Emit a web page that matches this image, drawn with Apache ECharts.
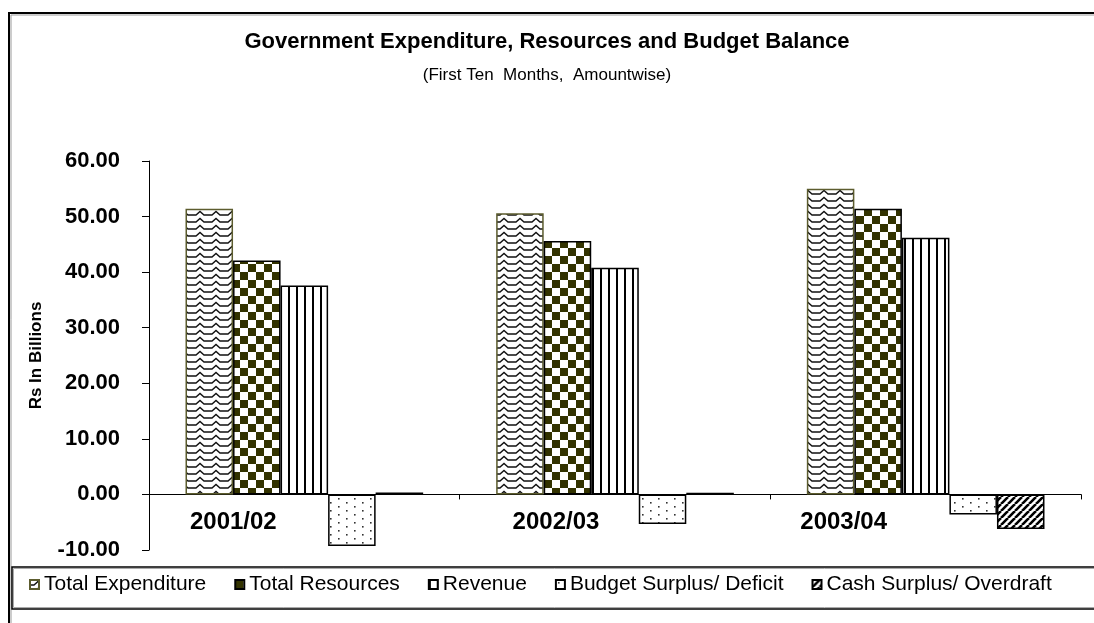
<!DOCTYPE html>
<html>
<head>
<meta charset="utf-8">
<script src="https://cdn.jsdelivr.net/npm/echarts@6/dist/echarts.min.js"></script>
<style>
html,body{margin:0;padding:0;background:#fff;}
#chart{width:1094px;height:623px;}
</style>
</head>
<body>
<div id="chart"></div>
<script>
// ---- data ----
const categories = ['2001/02', '2002/03', '2003/04'];
const seriesNames = ['Total Expenditure', 'Total Resources', 'Revenue', 'Budget Surplus/ Deficit', 'Cash Surplus/ Overdraft'];
const totalExpenditure = [51.4, 50.6, 55.0];
const totalResources = [42.1, 45.6, 51.4];
const revenue = [37.6, 40.8, 46.2];
const budgetBalance = [-9.3, -5.3, -3.6];
const cashBalance = [0.35, 0.3, -6.2];
const yTicks = { min: -10, max: 60, step: 10 };

// ---- patterns ----
function pat(w, h, draw) {
  const c = document.createElement('canvas');
  c.width = w; c.height = h;
  const g = c.getContext('2d');
  g.fillStyle = '#fff'; g.fillRect(0, 0, w, h);
  draw(g);
  return { image: c, repeat: 'repeat' };
}
const zigzag = pat(16, 7, g => {
  g.strokeStyle = '#111'; g.lineWidth = 1.4;
  g.beginPath(); g.moveTo(0, 5); g.lineTo(4, 5); g.lineTo(8, 1.5); g.lineTo(12, 5); g.lineTo(16, 5); g.stroke();
});
const checker = pat(16, 16, g => {
  g.fillStyle = '#333300';
  g.fillRect(0, 0, 8, 8); g.fillRect(8, 8, 8, 8);
});
const vlines = pat(8, 4, g => {
  g.fillStyle = '#000'; g.fillRect(0, 0, 2, 4);
});
const dots = pat(16, 8, g => {
  g.fillStyle = '#333'; g.fillRect(2, 2, 1.6, 1.6); g.fillRect(10, 6, 1.6, 1.6);
});
const diag = pat(7, 7, g => {
  g.strokeStyle = '#000'; g.lineWidth = 2.6;
  g.beginPath();
  for (let o = -7; o <= 7; o += 7) { g.moveTo(o, 7); g.lineTo(o + 7, 0); }
  g.stroke();
});

const fills = [zigzag, checker, vlines, dots, diag];
const borders = ['#5c5c2e', '#000', '#000', '#000', '#000'];
const values = [totalExpenditure, totalResources, revenue, budgetBalance, cashBalance];

const FONT = '"Liberation Sans", Arial, sans-serif';
const catStyle = { fontFamily: FONT, fontSize: 24, fontWeight: 'bold', color: '#000' };

const chart = echarts.init(document.getElementById('chart'));
chart.setOption({
  animation: false,
  backgroundColor: '#fff',
  title: {
    text: 'Government Expenditure, Resources and Budget Balance',
    subtext: '(First Ten  Months,  Amountwise)',
    left: 'center',
    top: 26,
    itemGap: 14,
    textStyle: { fontFamily: FONT, fontSize: 22, fontWeight: 'bold', color: '#000' },
    subtextStyle: { fontFamily: FONT, fontSize: 17, color: '#000' }
  },
  legend: {
    data: seriesNames,
    left: 29,
    top: 574,
    padding: 0,
    itemGap: 28,
    itemWidth: 9,
    itemHeight: 9,
    icon: 'rect',
    textStyle: { fontFamily: FONT, fontSize: 21, color: '#000' }
  },
  grid: { left: 149, right: 13, top: 161, bottom: 73, containLabel: false },
  xAxis: {
    type: 'category',
    data: categories,
    axisLine: { onZero: true, lineStyle: { color: '#000', width: 1 } },
    axisTick: { show: true, length: 5, lineStyle: { color: '#000' } },
    axisLabel: {
      margin: -40,
      ...catStyle,
      formatter: (v, i) => '{c' + i + '|' + v + '}',
      rich: {
        c0: { ...catStyle, padding: [0, 142, 0, 0] },
        c1: { ...catStyle, padding: [0, 118, 0, 0] },
        c2: { ...catStyle, padding: [0, 164, 0, 0] }
      }
    },
    splitLine: { show: false }
  },
  yAxis: {
    type: 'value',
    min: yTicks.min, max: yTicks.max, interval: yTicks.step,
    name: 'Rs In Billions',
    nameLocation: 'middle',
    nameGap: 104,
    nameRotate: 90,
    nameTextStyle: { fontFamily: FONT, fontSize: 17, fontWeight: 'bold', color: '#000' },
    axisLine: { show: true, lineStyle: { color: '#000', width: 1 } },
    axisTick: { show: true, length: 7, lineStyle: { color: '#000' } },
    axisLabel: {
      margin: 29,
      fontFamily: FONT, fontSize: 22, fontWeight: 'bold', color: '#000',
      formatter: v => v.toFixed(2)
    },
    splitLine: { show: false }
  },
  graphic: [
    { type: 'rect', z: -1, shape: { x: 9, y: 13, width: 1200, height: 700 }, style: { fill: 'none', stroke: '#000', lineWidth: 2 } },
    { type: 'rect', z: -1, shape: { x: 11, y: 15, width: 1200, height: 700 }, style: { fill: 'none', stroke: '#999', lineWidth: 1 } },
    { type: 'rect', z: -1, shape: { x: 12, y: 567, width: 1200, height: 42 }, style: { fill: 'none', stroke: '#000', lineWidth: 1.5 } },
    { type: 'rect', z: -1, shape: { x: 13.5, y: 568.5, width: 1200, height: 39 }, style: { fill: 'none', stroke: '#aaa', lineWidth: 1 } }
  ],
  series: seriesNames.map((name, i) => ({
    name,
    type: 'bar',
    data: values[i],
    barGap: '0%',
    barCategoryGap: '23.5%',
    itemStyle: { color: fills[i], borderColor: borders[i], borderWidth: 1.5 }
  }))
});
</script>
</body>
</html>
